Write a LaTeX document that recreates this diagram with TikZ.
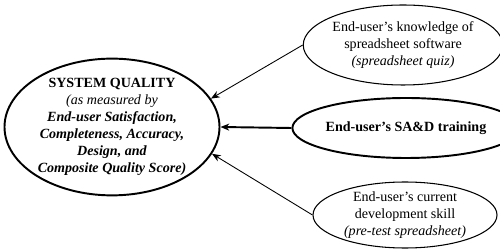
\documentclass[tikz,border=0pt]{standalone}
\usepackage{fontspec}
\setmainfont{Liberation Serif}
\usetikzlibrary{shapes.geometric,arrows.meta}

\begin{document}
\begin{tikzpicture}[thick]
        \tikzset{
            oval/.style={ellipse, draw, inner sep=0pt, align=center,
                font=\fontsize{8}{9.6}\selectfont},
            link/.style={-{Stealth[length=5pt,width=4pt]}, line width=0.5pt},
        }
        \useasboundingbox (0,0) rectangle (10,5);

        % system quality (left)
        \node[oval, line width=1.1pt, minimum width=4.3cm, minimum height=2.7cm] (SQ) at (2.24,2.46)
            {\textbf{SYSTEM QUALITY}\\ \textit{(as measured by}\\
             \textbf{\textit{End-user Satisfaction,}}\\
             \textbf{\textit{Completeness, Accuracy,}}\\
             \textbf{\textit{Design, and}}\\
             \textbf{\textit{Composite Quality Score)}}};

        % the three factors (right)
        \node[oval, line width=0.6pt, minimum width=3.66cm, minimum height=1.6cm] (KN) at (8.06,4.1)
            {End-user's knowledge of\\ spreadsheet software\\ \textit{(spreadsheet quiz)}};
        \node[oval, line width=1.1pt, minimum width=3.64cm, minimum height=1.2cm] (TR) at (8.12,2.44)
            {\textbf{End-user's SA\&D training}};
        \node[oval, line width=0.6pt, minimum width=3.68cm, minimum height=1.32cm] (SK) at (8.1,0.7)
            {End-user's current\\ development skill\\ \textit{(pre-test spreadsheet)}};

        % arrows
        \draw[link] (KN.west) -- (SQ.16);
        \draw[link, line width=1.1pt] (TR.west) -- (SQ.east);
        \draw[link] (SK.west) -- (SQ.-15);
    \end{tikzpicture}
\end{document}
